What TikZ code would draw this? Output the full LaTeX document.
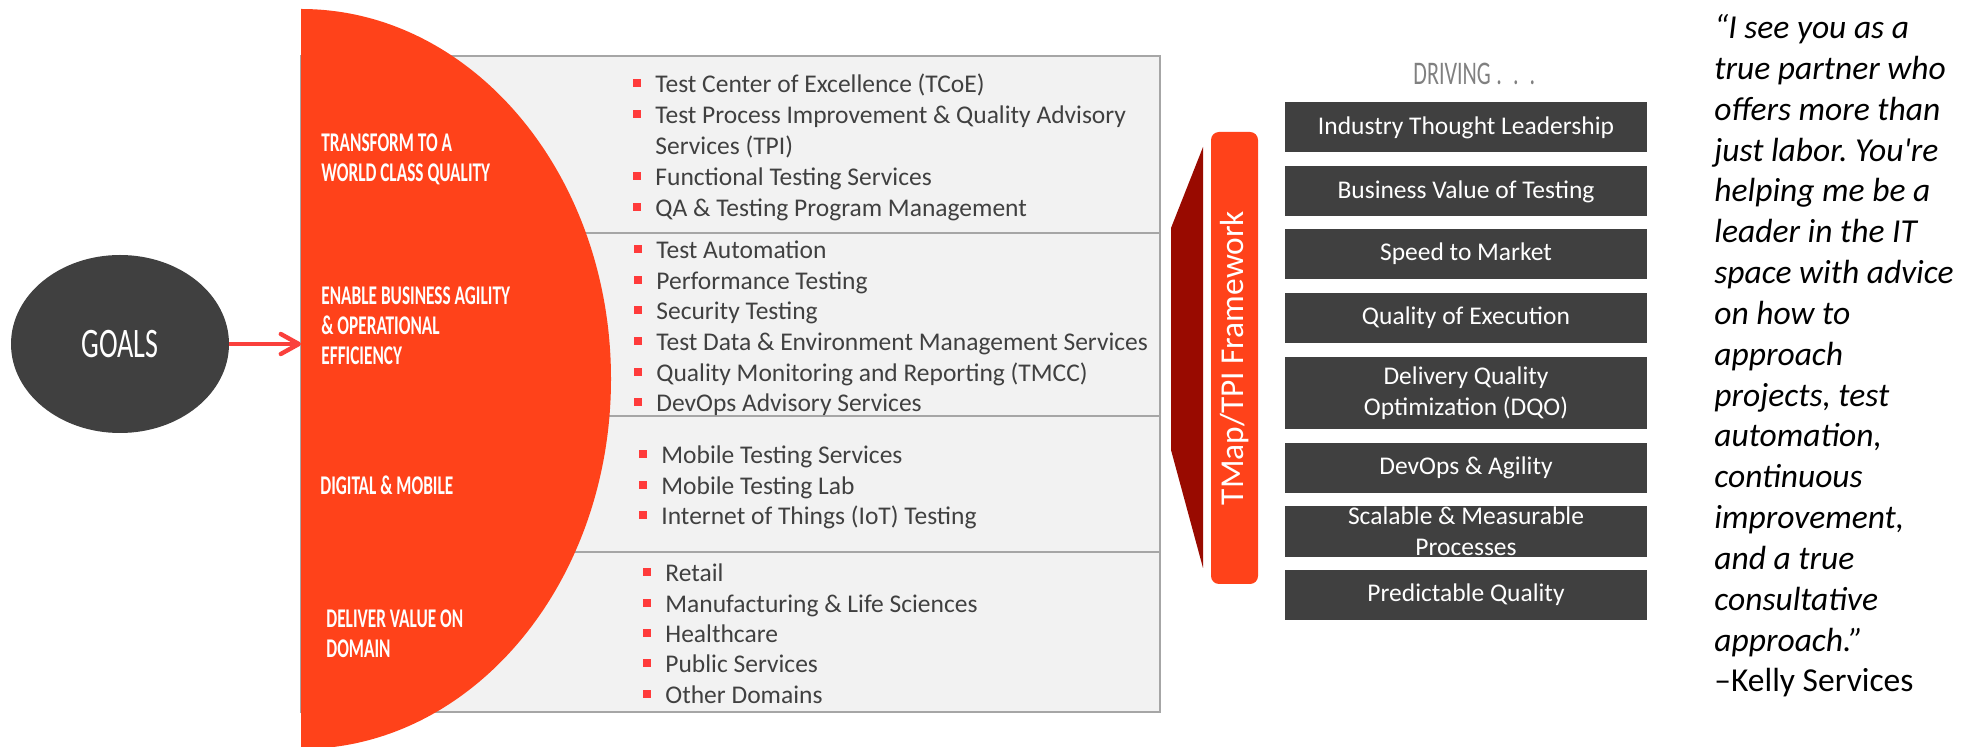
\documentclass[tikz,border=0pt]{standalone}
\usepackage{fontspec}
\setmainfont{Carlito}
\newfontfamily\condfont[FakeStretch=0.67]{Carlito}
\newfontfamily\labelfont[FakeStretch=0.64]{Carlito Bold}
\usepackage{tikz}
\usetikzlibrary{arrows.meta, shapes.geometric, positioning, calc}
\frenchspacing

\definecolor{discred}{RGB}{255,66,26}
\definecolor{darkred}{RGB}{153,10,0}
\definecolor{darkgray}{RGB}{64,64,64}
\definecolor{panelgray}{RGB}{242,242,242}
\definecolor{panelline}{RGB}{166,166,166}
\definecolor{bulletred}{RGB}{255,59,59}
\definecolor{arrowred}{RGB}{250,64,60}
\definecolor{drivegray}{RGB}{128,128,128}

\tikzset{
  goal/.style={ellipse, fill=darkgray, minimum width=109pt, minimum height=89pt, inner sep=0pt,
    text=white, font=\condfont\fontsize{21}{24}\selectfont},
  area/.style={anchor=north west, inner sep=0pt, align=left, text=white,
    font=\labelfont\fontsize{13.5}{15}\selectfont},
  item/.style={anchor=base west, inner sep=0pt, text=darkgray, font=\fontsize{12.75}{15}\selectfont},
  drivebox/.style={fill=darkgray, minimum width=181pt, inner sep=0pt},
  drivetext/.style={inner sep=0pt, align=center, text=white, font=\fontsize{12.75}{15.5}\selectfont},
  bar/.style={fill=discred, rounded corners=4pt, rotate=90, minimum width=226pt, minimum height=23.5pt,
    inner sep=0pt, text=white, font=\fontsize{16.7}{19}\selectfont},
}

\begin{document}
\begin{tikzpicture}[x=0.5pt, y=0.5pt]
\useasboundingbox (0,0) rectangle (1979,-747);
\clip (0,0) rectangle (1979,-747);

\draw[fill=panelgray, draw=panelline, line width=0.8pt] (301,-56) rectangle (1160,-712);
\foreach \y in {233,416,552}
  \draw[panelline, line width=0.8pt] (301,-\y) -- (1160,-\y);

\fill[discred] (301,-9) arc[start angle=90, end angle=-90, x radius=310, y radius=370] -- cycle;
\coordinate (discedge) at (301,-344);

\node[goal] (goals) at (120,-344) {GOALS};
\draw[arrowred, line width=2.2pt, -{Straight Barb[length=9pt, width=10pt, round]}] (goals.east) -- (discedge);

\node[area] (transform) at (321,-133) {TRANSFORM TO A\\WORLD CLASS QUALITY};
\node[area] (enable) at (321,-286) {ENABLE BUSINESS AGILITY\\\& OPERATIONAL\\EFFICIENCY};
\node[area] (digital) at (320,-475) {DIGITAL \& MOBILE};
\node[area] (deliver) at (326,-609) {DELIVER VALUE ON\\DOMAIN};

\foreach \x/\y/\txt [count=\k] in {655/83/Test Center of Excellence (TCoE),
  655/114/Test Process Improvement \& Quality Advisory, 655/176/Functional Testing Services,
  655/207/QA \& Testing Program Management,
  656/249/Test Automation, 656/280/Performance Testing, 656/310/Security Testing,
  656/341/Test Data \& Environment Management Services,
  656/372/Quality Monitoring and Reporting (TMCC), 656/402/DevOps Advisory Services,
  661/454/Mobile Testing Services, 661/485/Mobile Testing Lab, 661/515/Internet of Things (IoT) Testing,
  665/572/Retail, 665/603/Manufacturing \& Life Sciences, 665/633/Healthcare,
  665/663/Public Services, 665/694/Other Domains} {
  \node[item] (item\k) at (\x,{-\y-9.5}) {\txt};
  \fill[bulletred] ({\x-22},{-\y-4}) rectangle +(8,8);
}
\node[item] (itemtpi) at (655,-154.5) {Services (TPI)};

\fill[darkred] (1203,-147) -- (1171,-228) -- (1171,-450) -- (1203,-568) -- cycle;
\node[bar] (tmap) at (1234.5,-358) {TMap/TPI Framework};

\node[anchor=north west, inner sep=0pt, text=drivegray, font=\condfont\fontsize{16.5}{18}\selectfont]
  (driving) at (1413,-63) {DRIVING\,.\,\,.\,\,.};

\foreach \i/\y/\h/\txt in {1/127.5/50/Industry Thought Leadership, 2/191.5/50/Business Value of Testing,
  3/254/50/Speed to Market, 4/318/50/Quality of Execution,
  5/393/72/{Delivery Quality\\Optimization (DQO)}, 6/468/50/DevOps \& Agility,
  7/531.5/51/{Scalable \& Measurable\\Processes}, 8/595/50/Predictable Quality} {
  \node[drivebox, minimum height=\h*0.5pt] (drv\i) at (1466,-\y) {};
  \node[drivetext] (drvtxt\i) at (drv\i) {\txt};
}

\node[anchor=north west, inner sep=0pt, align=left, font=\itshape\fontsize{16.75}{20.42}\selectfont]
  (quote) at (1714,-14) {“I see you as a\\true partner who\\offers more than\\just labor. You\textquotesingle re\\helping me be a\\leader in the IT\\space with advice\\on how to\\approach\\projects, test\\automation,\\continuous\\improvement,\\and a true\\consultative\\approach.”\\{\upshape –Kelly Services}};
\end{tikzpicture}
\end{document}
